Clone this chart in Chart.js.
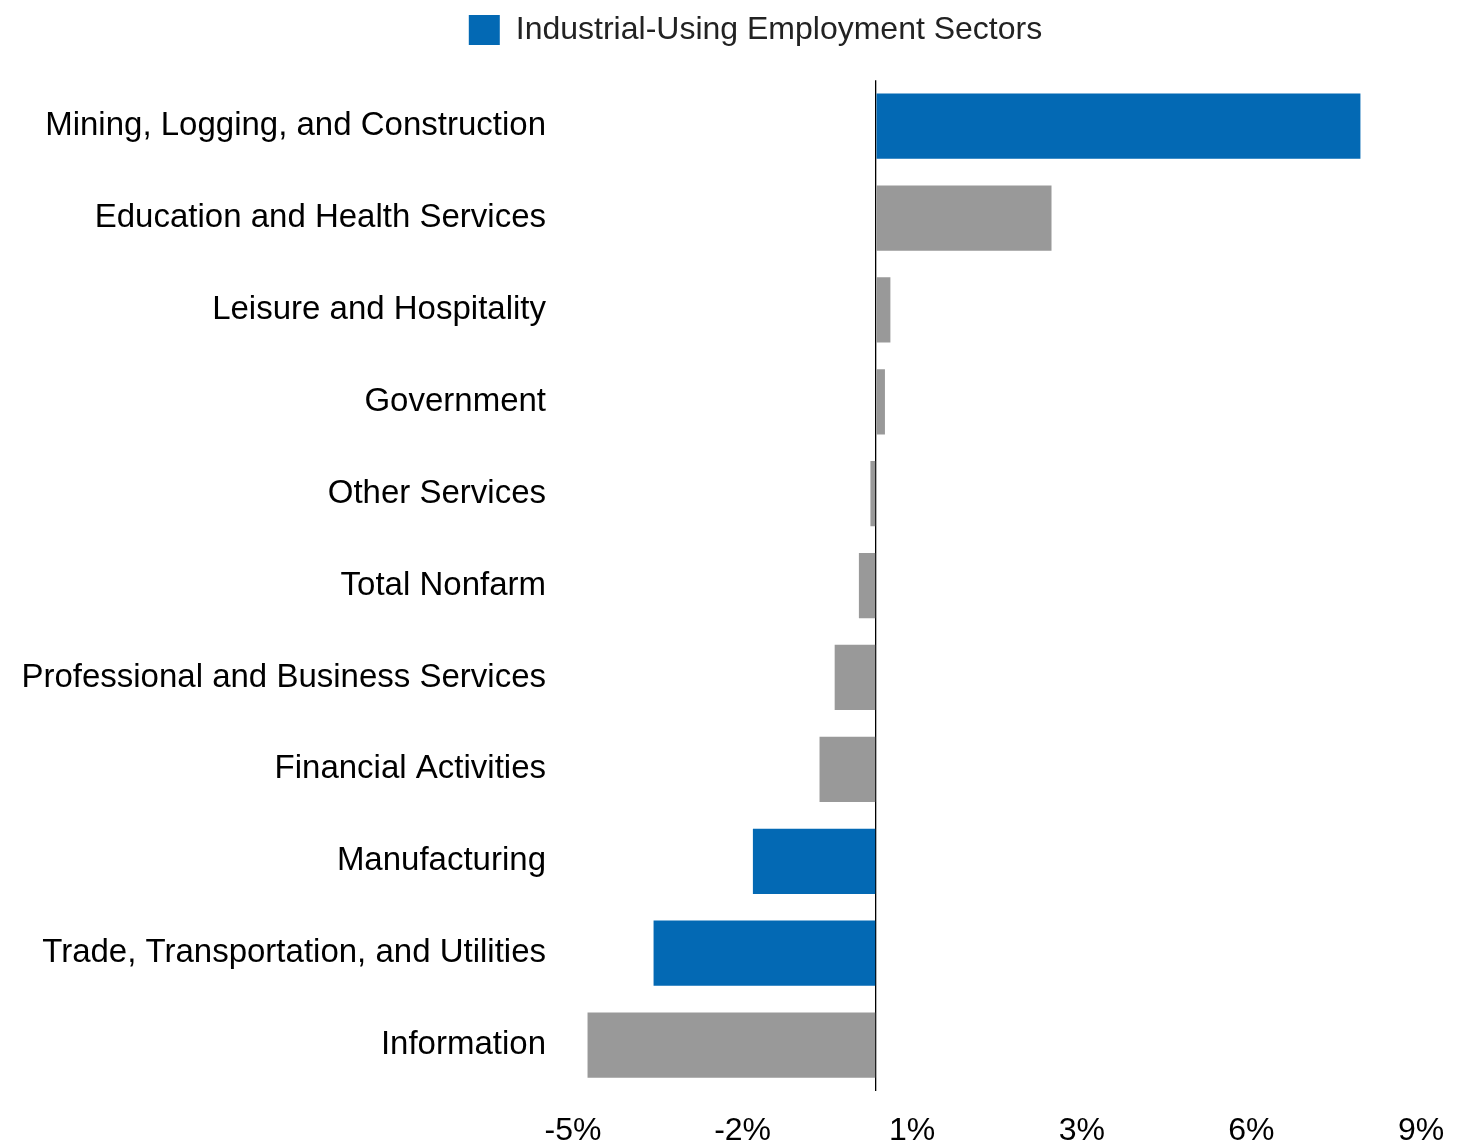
<!DOCTYPE html>
<html>
<head>
<meta charset="utf-8">
<script src="https://cdn.jsdelivr.net/npm/chart.js@4.4.1/dist/chart.umd.min.js"></script>
<style>
  html, body { margin: 0; padding: 0; background: #fff; }
  #wrap { width: 1479px; height: 1146px; position: relative; }
</style>
</head>
<body>
<div id="wrap"><canvas id="c" width="1479" height="1146"></canvas></div>
<script>
const categories = [
  "Mining, Logging, and Construction",
  "Education and Health Services",
  "Leisure and Hospitality",
  "Government",
  "Other Services",
  "Total Nonfarm",
  "Professional and Business Services",
  "Financial Activities",
  "Manufacturing",
  "Trade, Transportation, and Utilities",
  "Information"
];
const values = [8.0, 2.9, 0.24, 0.15, -0.09, -0.28, -0.68, -0.93, -2.03, -3.67, -4.76];
const industrialUsing = [true, false, false, false, false, false, false, false, true, true, false];
const xTicks = [-5, -2.2, 0.6, 3.4, 6.2, 9];
const legendLabel = "Industrial-Using Employment Sectors";

const blueValues = values.map((v, i) => industrialUsing[i] ? v : null);
const greyValues = values.map((v, i) => industrialUsing[i] ? null : v);

const FONT = "'Liberation Sans', Arial, Helvetica, sans-serif";

// Offset the legend's layout box so it is centred like the reference.
const legendShift = {
  id: 'legendShift',
  afterLayout(chart) {
    if (chart.legend) { chart.legend.left = 90; }
  }
};

new Chart(document.getElementById('c'), {
  type: 'bar',
  data: {
    labels: categories,
    datasets: [
      { label: legendLabel, data: blueValues, backgroundColor: '#0369b4', borderWidth: 0,
        barPercentage: 0.71, categoryPercentage: 1.0 },
      { label: 'Other', data: greyValues, backgroundColor: '#999999', borderWidth: 0,
        barPercentage: 0.71, categoryPercentage: 1.0 }
    ]
  },
  plugins: [legendShift],
  options: {
    indexAxis: 'y',
    responsive: false,
    animation: false,
    layout: { padding: { left: 0, right: 58, top: 0, bottom: 0 } },
    plugins: {
      legend: {
        display: true,
        position: 'top',
        weight: 1000,
        labels: {
          filter: (item) => item.datasetIndex === 0,
          boxWidth: 31,
          boxHeight: 30,
          color: '#222',
          font: { family: FONT, size: 32 },
          padding: 14
        }
      },
      title: {
        display: true,
        text: '',
        weight: 500,
        position: 'top',
        font: { size: 1 },
        padding: { top: 0, bottom: 23 }
      },
      tooltip: { enabled: false }
    },
    scales: {
      x: {
        type: 'linear',
        min: -5,
        max: 9,
        afterFit: (scale) => { scale.height = 55; },
        afterBuildTicks: (scale) => {
          scale.ticks = [...xTicks, 0].sort((a, b) => a - b).map(v => ({ value: v }));
        },
        ticks: {
          autoSkip: false,
          maxRotation: 0,
          padding: 21,
          color: '#000',
          font: { family: FONT, size: 32 },
          callback: (v) => v === 0 ? '' : Math.round(v) + '%'
        },
        grid: {
          drawTicks: false,
          lineWidth: (ctx) => (ctx.tick && ctx.tick.value === 0) ? 1.3 : 0,
          color: (ctx) => (ctx.tick && ctx.tick.value === 0) ? '#000' : 'rgba(0,0,0,0)'
        },
        border: { display: false }
      },
      y: {
        stacked: true,
        afterFit: (scale) => { scale.width = 573; },
        ticks: {
          padding: 27,
          color: '#000',
          font: { family: FONT, size: 33 }
        },
        grid: { display: false, drawTicks: false },
        border: { display: false }
      }
    }
  }
});
</script>
</body>
</html>
